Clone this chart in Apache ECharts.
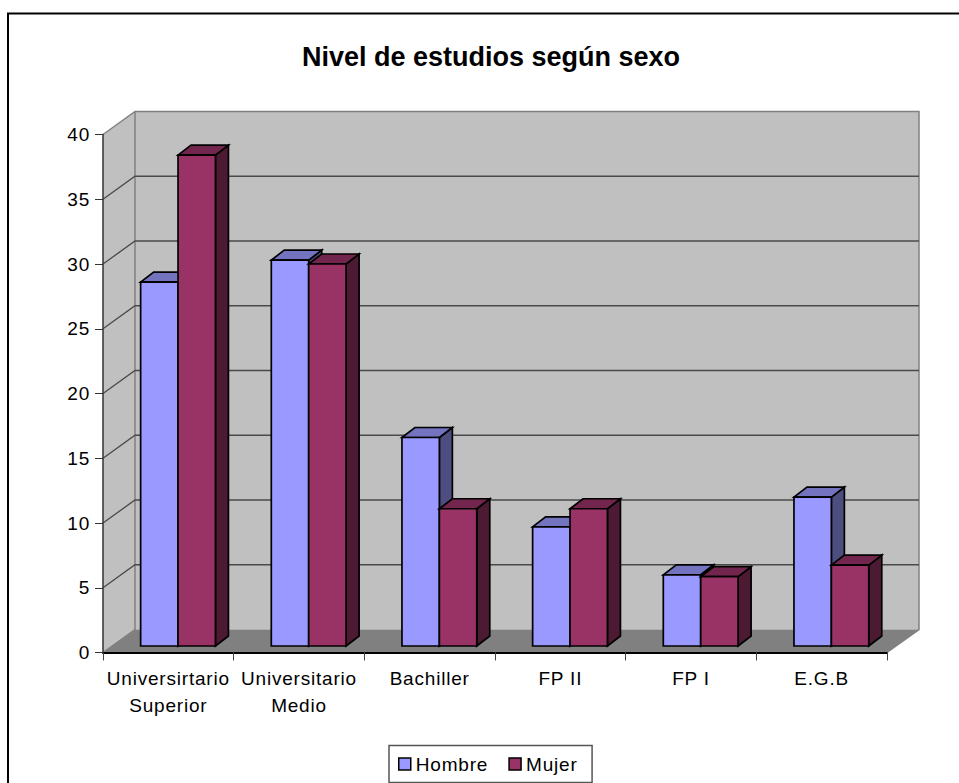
<!DOCTYPE html>
<html>
<head>
<meta charset="utf-8">
<style>
html,body{margin:0;padding:0;background:#fff;}
#main{width:959px;height:783px;}
#main text{letter-spacing:0.8px;}
#main text[style*="bold"]{letter-spacing:0;}
</style>
<script src="https://cdn.jsdelivr.net/npm/echarts@6/dist/echarts.min.js"></script>
</head>
<body>
<div id="main"></div>
<script>
const categories = ['Universirtario\nSuperior', 'Universitario\nMedio', 'Bachiller', 'FP II', 'FP I', 'E.G.B'];
const hombre = [28.1, 29.8, 16.1, 9.2, 5.5, 11.5];
const mujer = [37.9, 29.5, 10.6, 10.6, 5.35, 6.25];
const yTicks = [0, 5, 10, 15, 20, 25, 30, 35, 40];

const FLOOR_DX = 32, FLOOR_DY = 23;
const BAR_DX = 13, BAR_DY = 10;
const GAP_DX = 9.7, GAP_DY = 6.5;
const BAR_W = 37.4;

function poly(points, fill, stroke, width) {
  return { type: 'polygon', shape: { points }, style: { fill, stroke: stroke || 'none', lineWidth: width || 0, lineJoin: 'miter' } };
}
function line(points, stroke, width) {
  return { type: 'polyline', shape: { points }, style: { fill: 'none', stroke, lineWidth: width } };
}
function frame(api) {
  const half = api.size([1, 0])[0] / 2;
  const p0 = api.coord([0, 0]), p1 = api.coord([categories.length - 1, 40]);
  return { l: p0[0] - half, r: p1[0] + half, b: p0[1], t: p1[1] };
}
function renderWalls(params, api) {
  const f = frame(api);
  const d = FLOOR_DX, e = FLOOR_DY;
  return { type: 'group', children: [
    poly([[f.l, f.b], [f.l + d, f.b - e], [f.l + d, f.t - e], [f.l, f.t]], '#c0c0c0'),
    poly([[f.l + d, f.b - e], [f.r + d, f.b - e], [f.r + d, f.t - e], [f.l + d, f.t - e]], '#c0c0c0'),
    poly([[f.l, f.b], [f.r, f.b], [f.r + d, f.b - e], [f.l + d, f.b - e]], '#808080'),
    line([[f.l, f.t], [f.l + d, f.t - e], [f.r + d, f.t - e], [f.r + d, f.b - e], [f.r, f.b]], '#808080', 1.5),
    line([[f.l + d, f.t - e], [f.l + d, f.b - e], [f.l, f.b]], '#808080', 1.5)
  ] };
}
function renderGrid(params, api) {
  const f = frame(api);
  const y = api.coord([0, api.value(1)])[1];
  return line([[f.l, y], [f.l + FLOOR_DX, y - FLOOR_DY], [f.r + FLOOR_DX, y - FLOOR_DY]], '#4a4a4a', 1.3);
}
function makeBar(offset, front, top, side) {
  return function (params, api) {
    const c = api.coord([api.value(0), api.value(1)]);
    const base = api.coord([api.value(0), 0])[1] - GAP_DY;
    const y = c[1] - GAP_DY;
    const x0 = c[0] + GAP_DX + offset * BAR_W, x1 = x0 + BAR_W;
    return { type: 'group', children: [
      poly([[x1, base], [x1 + BAR_DX, base - BAR_DY], [x1 + BAR_DX, y - BAR_DY], [x1, y]], side, '#000', 1.7),
      poly([[x0, y], [x1, y], [x1 + BAR_DX, y - BAR_DY], [x0 + BAR_DX, y - BAR_DY]], top, '#000', 1.7),
      poly([[x0, base], [x1, base], [x1, y], [x0, y]], front, '#000', 1.7)
    ] };
  };
}

const chart = echarts.init(document.getElementById('main'), null, { renderer: 'svg' });
chart.setOption({
  animation: false,
  backgroundColor: '#fff',
  title: {
    text: 'Nivel de estudios según sexo',
    left: 486, top: 38, textAlign: 'center',
    textStyle: { fontFamily: 'Liberation Sans', fontSize: 27, fontWeight: 'bold', color: '#000' }
  },
  legend: {
    data: ['Hombre', 'Mujer'],
    left: 389, top: 745.5,
    orient: 'horizontal',
    padding: [9, 18.5, 9, 9],
    itemGap: 25, itemWidth: 12, itemHeight: 12,
    icon: 'rect',
    backgroundColor: '#fff', borderColor: '#555', borderWidth: 1.5,
    itemStyle: { borderColor: '#000', borderWidth: 1.5 },
    textStyle: { fontFamily: 'Liberation Sans', fontSize: 19, color: '#000' }
  },
  grid: { left: 103, top: 134.5, width: 784, height: 518 },
  xAxis: {
    type: 'category', data: categories, z: 5,
    axisLine: { lineStyle: { color: '#000', width: 2 } },
    axisTick: { show: true, length: 8, lineStyle: { color: '#444', width: 1 } },
    axisLabel: { fontFamily: 'Liberation Sans', fontSize: 19, color: '#000', lineHeight: 27, margin: 12, interval: 0 }
  },
  yAxis: {
    type: 'value', min: 0, max: 40, interval: 5, z: 5,
    axisLine: { show: true, lineStyle: { color: '#333', width: 1.5 } },
    axisTick: { show: true, length: 8, lineStyle: { color: '#333', width: 1 } },
    axisLabel: { fontFamily: 'Liberation Sans', fontSize: 19, color: '#000', margin: 13 },
    splitLine: { show: false }
  },
  series: [
    { type: 'custom', silent: true, z: 1, data: [[0, 0]], renderItem: renderWalls },
    { type: 'custom', silent: true, z: 2, data: yTicks.slice(1, -1).map(v => [0, v]), renderItem: renderGrid },
    { type: 'custom', name: 'Hombre', z: 3, itemStyle: { color: '#9999ff' },
      data: hombre.map((v, i) => [i, v]), encode: { x: 0, y: 1 },
      renderItem: makeBar(-1, '#9999ff', '#7373bf', '#4d4d80') },
    { type: 'custom', name: 'Mujer', z: 4, itemStyle: { color: '#993366' },
      data: mujer.map((v, i) => [i, v]), encode: { x: 0, y: 1 },
      renderItem: makeBar(0, '#993366', '#73264d', '#4d1a33') }
  ],
  graphic: [{
    type: 'polyline', silent: true, z: 100,
    shape: { points: [[8, 790], [8, 13.5], [970, 13.5]] },
    style: { fill: 'none', stroke: '#000', lineWidth: 2 }
  }]
});
</script>
</body>
</html>
